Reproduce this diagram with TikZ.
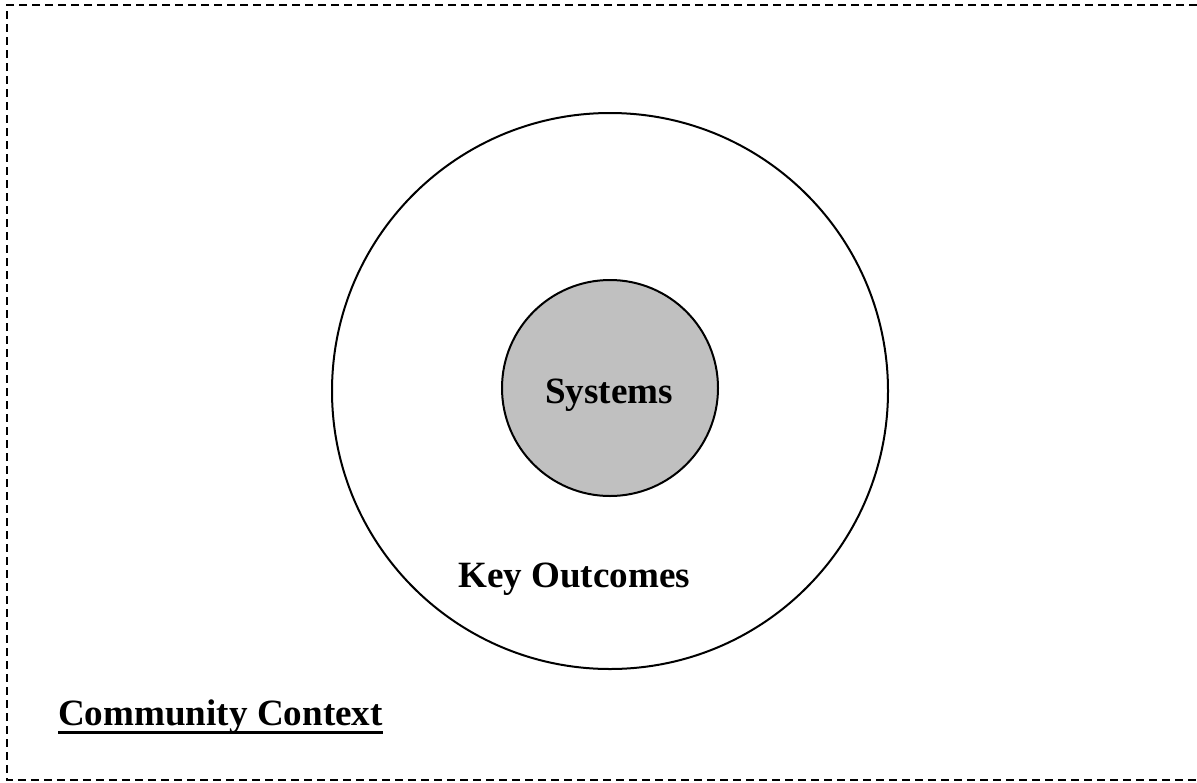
\documentclass[tikz,border=0pt]{standalone}
\usepackage{fontspec}
\setmainfont{Liberation Serif}
\begin{document}
\begin{tikzpicture}[x=1pt,y=-1pt,
  ring/.style={draw=black,line width=2pt},
  lbl/.style={inner sep=0pt,anchor=base west,font=\fontsize{37.1}{40}\selectfont\bfseries}]
\useasboundingbox (0,0) rectangle (1197,782);
\draw[line width=2pt,dash pattern=on 8pt off 5pt] (1197,5) -- (7,5) -- (7,780) -- (1197,780);
\node[ring,circle,minimum size=556pt,inner sep=0pt] (outer) at (610,391) {};
\node[ring,circle,minimum size=216pt,inner sep=0pt,fill={rgb,255:red,192;green,192;blue,192}] (inner) at (610,388) {};
\node[lbl] (sys) at (545,403) {Systems};
\node[lbl] (key) at (458,587) {Key Outcomes};
\node[lbl] (comm) at (58,725) {Community Context};
\draw[line width=3pt] (comm.base west) ++(0,7) -- ([yshift=-7pt]comm.base east);
\end{tikzpicture}
\end{document}
